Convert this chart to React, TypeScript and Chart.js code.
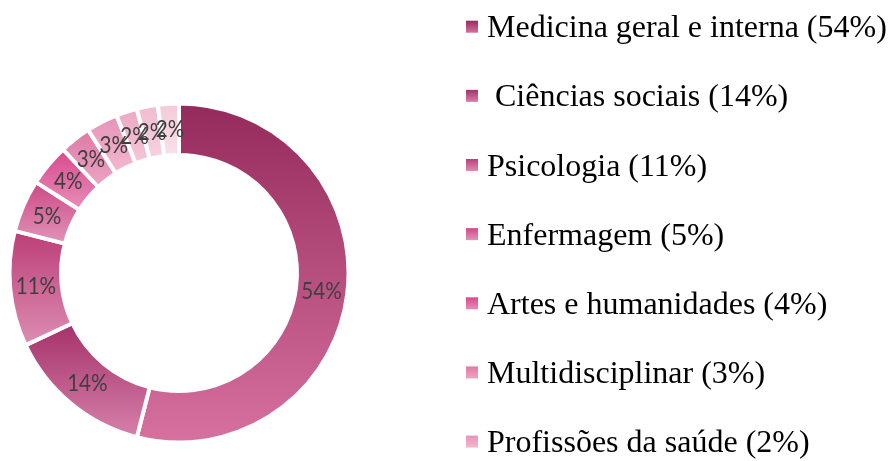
import React, { useEffect, useRef } from "react";
import { Chart, registerables } from "chart.js";

Chart.register(...registerables);

const categories = [
  "Medicina geral e interna (54%)",
  " Ciências sociais (14%)",
  "Psicologia (11%)",
  "Enfermagem (5%)",
  "Artes e humanidades (4%)",
  "Multidisciplinar (3%)",
  "Profissões da saúde (2%)",
  "Outras áreas (2%)",
  "Outras áreas (2%)",
  "Outras áreas (2%)",
];
const values = [54, 14, 11, 5, 4, 3, 3, 2, 2, 2];
const sliceLabels = ["54%", "14%", "11%", "5%", "4%", "3%", "3%", "2%", "2%", "2%"];

const topColors = [
  "#952b5c", "#a5326a", "#bc3e78", "#cd4a87", "#d94a8e",
  "#df79a7", "#e793b7", "#eca9c3", "#f0bcd0", "#f3ccd9",
];
const bottomColors = [
  "#d6709f", "#d57fa9", "#dc8db2", "#e193b8", "#e78db7",
  "#eca5c4", "#f2b8d0", "#f4c6d7", "#f6d1de", "#f8dfe8",
];

const BORDER = 4;
const CUTOUT = 0.696;

function sliceGradient(c: any) {
  const i = c.dataIndex;
  const chart = c.chart;
  const area = chart.chartArea;
  if (!area || i === undefined) return topColors[i ?? 0];
  const cx = (area.left + area.right) / 2;
  const cy = (area.top + area.bottom) / 2;
  const maxSize = (Math.min(area.right - area.left, area.bottom - area.top) - BORDER) / 2;
  const R = maxSize - BORDER / 2;
  const r = maxSize * CUTOUT + BORDER / 2;
  const total = values.reduce((a, b) => a + b, 0);
  let cum = 0;
  for (let j = 0; j < i; j++) cum += values[j];
  const a1 = -Math.PI / 2 + (2 * Math.PI * cum) / total;
  const a2 = a1 + (2 * Math.PI * values[i]) / total;
  const ys = [cy + R * Math.sin(a1), cy + R * Math.sin(a2), cy + r * Math.sin(a1), cy + r * Math.sin(a2)];
  if (a1 <= Math.PI / 2 && a2 >= Math.PI / 2) ys.push(cy + R);
  if (a1 <= -Math.PI / 2 + 1e-9 || a2 >= (3 * Math.PI) / 2 - 1e-9) ys.push(cy - R);
  const y0 = Math.min(...ys);
  const y1 = Math.max(...ys);
  const g = chart.ctx.createLinearGradient(0, y0, 0, y1);
  g.addColorStop(0, topColors[i]);
  g.addColorStop(1, bottomColors[i]);
  return g;
}

const sliceLabelPlugin = {
  id: "sliceLabels",
  afterDatasetsDraw(chart: any) {
    const ctx = chart.ctx;
    const meta = chart.getDatasetMeta(0);
    meta.data.forEach((arc: any, i: number) => {
      const p = arc.getProps(["x", "y", "startAngle", "endAngle", "innerRadius", "outerRadius"], true);
      const mid = (p.startAngle + p.endAngle) / 2;
      const rr = (p.innerRadius + p.outerRadius) / 2;
      ctx.save();
      ctx.font = '24px Lato, "DejaVu Sans", sans-serif';
      ctx.fillStyle = "#3f3f3f";
      ctx.textAlign = "center";
      ctx.textBaseline = "middle";
      ctx.translate(p.x + Math.cos(mid) * rr, p.y + Math.sin(mid) * rr);
      ctx.scale(0.86, 1);
      ctx.fillText(sliceLabels[i], 0, 0);
      ctx.restore();
    });
  },
};

const legendPlugin = {
  id: "sideLegend",
  afterDraw(chart: any) {
    const ctx = chart.ctx;
    ctx.save();
    ctx.font = '32px "Liberation Serif", "Times New Roman", serif';
    ctx.textAlign = "left";
    ctx.textBaseline = "alphabetic";
    categories.forEach((label, i) => {
      const base = 37.3 + 69.15 * i;
      const top = base - 16.6;
      const g = ctx.createLinearGradient(0, top, 0, top + 12);
      g.addColorStop(0, topColors[i]);
      g.addColorStop(1, bottomColors[i]);
      ctx.fillStyle = g;
      ctx.fillRect(466, top, 12, 12);
      ctx.fillStyle = "#000000";
      ctx.fillText(label, 487, base);
    });
    ctx.restore();
  },
};

export default function App() {
  const ref = useRef<HTMLCanvasElement | null>(null);
  useEffect(() => {
    if (!ref.current) return;
    const chart = new Chart(ref.current, {
      type: "doughnut",
      data: {
        labels: categories,
        datasets: [
          {
            data: values,
            backgroundColor: sliceGradient as any,
            borderColor: "#ffffff",
            borderWidth: BORDER,
            hoverBorderWidth: BORDER,
            hoverOffset: 0,
          },
        ],
      },
      options: {
        animation: false,
        responsive: true,
        maintainAspectRatio: false,
        cutout: CUTOUT * 100 + "%",
        events: [],
        layout: { padding: { left: 7.5, top: 101.5, right: 539.5, bottom: 16.5 } },
        plugins: { legend: { display: false }, tooltip: { enabled: false } },
      },
      plugins: [sliceLabelPlugin, legendPlugin],
    });
    return () => chart.destroy();
  }, []);
  return (
    <div style={{ position: "absolute", left: 0, top: 0, width: 890, height: 461, background: "#ffffff" }}>
      <canvas ref={ref} />
    </div>
  );
}
